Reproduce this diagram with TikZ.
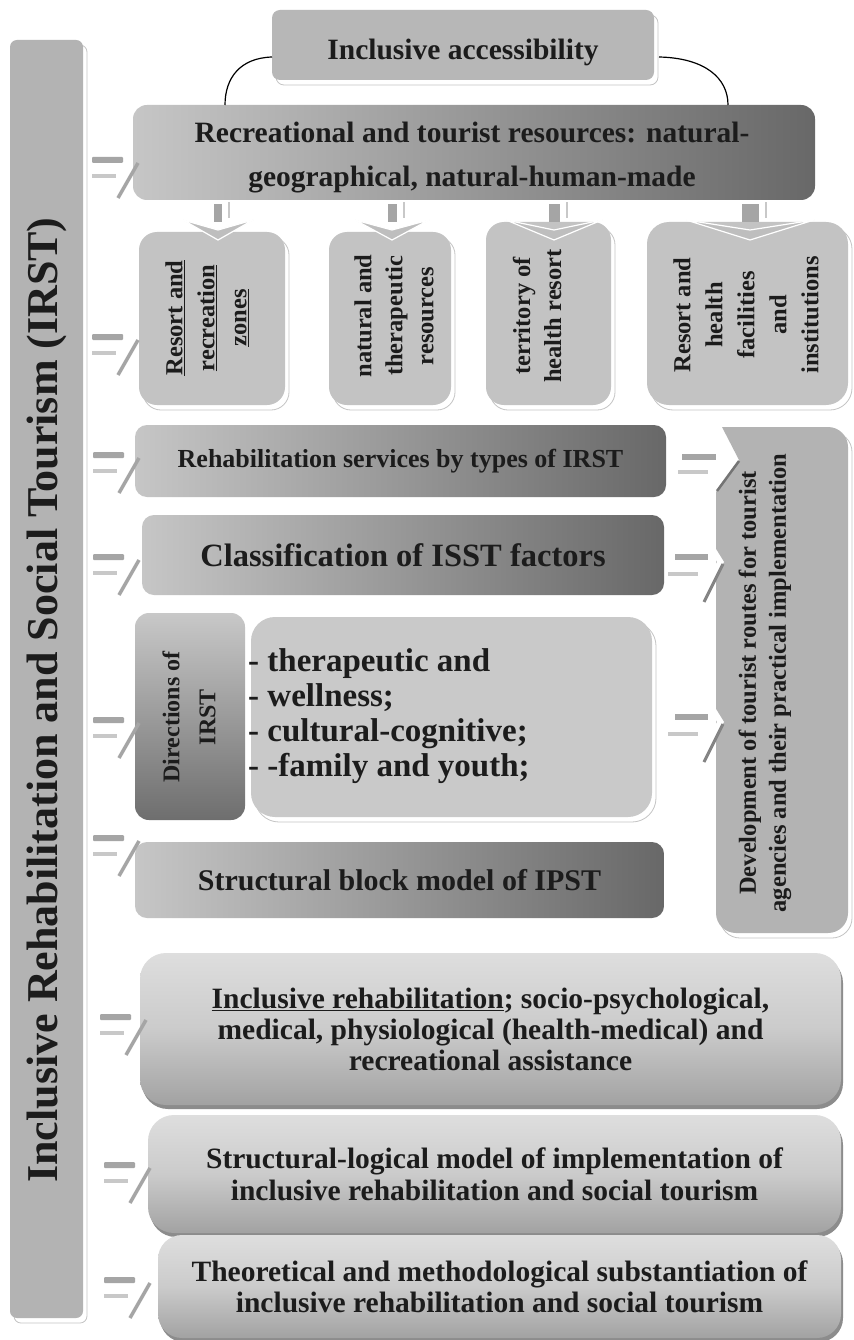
\documentclass[tikz,border=0pt]{standalone}
\usepackage{fontspec}
\setmainfont{Liberation Serif}
\usetikzlibrary{shadows,calc}
\definecolor{barfill}{HTML}{B3B3B3}
\definecolor{topfill}{HTML}{B7B7B7}
\definecolor{vfill}{HTML}{C3C3C3}
\definecolor{listfill}{HTML}{C9C9C9}
\definecolor{gradlight}{HTML}{C6C6C6}
\definecolor{graddark}{HTML}{686868}
\definecolor{botlight}{HTML}{DEDEDE}
\definecolor{botmid}{HTML}{CBCBCB}
\definecolor{botdark}{HTML}{A2A2A2}
\definecolor{arrdark}{HTML}{A5A5A5}
\definecolor{arrlight}{HTML}{C8C8C8}
\definecolor{chev}{HTML}{BEBEBE}
\definecolor{ink}{HTML}{1C1C1C}
\definecolor{rimline}{HTML}{C4C4C4}
\definecolor{dirlight}{HTML}{C8C8C8}
\definecolor{dirdark}{HTML}{6E6E6E}
\newcommand{\fs}[2]{\fontsize{#1bp}{#2bp}\selectfont}
\newcommand{\larrow}[2]{%
  \fill[arrdark,rounded corners=1bp] (#1,#2-3) rectangle (#1+31,#2+3);
  \fill[arrlight] (#1,#2+14) rectangle (#1+24,#2+18);
  \draw[arrdark,line width=3.5bp] (#1+26,#2+38) -- (#1+46,#2+3);}
\newcommand{\rarrow}[2]{%
  \fill[arrdark] (#1,#2-3) rectangle (#1+33,#2+3);
  \fill[arrlight] (#1-7,#2+15) rectangle (#1+23,#2+19);
  \fill[white] (#1+36,#2-16) -- (#1+49,#2+5) -- (#1+36,#2+26) -- (#1+30,#2+26) -- (#1+42,#2+5) -- (#1+30,#2-16) -- cycle;
  \draw[arrdark!80!black,line width=3bp] (#1+29,#2+45) -- (#1+48,#2+7);}
\begin{document}
\begin{tikzpicture}[x=1bp,y=-1bp,
  base/.style={anchor=north west, inner sep=0pt, outer sep=0pt},
  rim/.style={general shadow={fill=white, draw=rimline, line width=0.8bp, shadow xshift=4bp, shadow yshift=-5bp}},
  darkrim/.style={general shadow={fill=black!45, shadow xshift=2bp, shadow yshift=-4bp}},
  hgrad/.style={left color=gradlight, right color=graddark},
  botgrad/.style={top color=botlight, bottom color=botdark, middle color=botmid},
  txt/.style={text=ink, align=center, inner sep=0pt},
  arcline/.style={line width=1.2bp, black}]
\useasboundingbox (0,0) rectangle (853,1340);
\fill[white] (0,0) rectangle (853,1340);

% left bar
\node[base, rim, fill=barfill, rounded corners=7bp, minimum width=73bp, minimum height=1278bp] (bar) at (10,40) {};
\node[txt, rotate=90, font=\bfseries\fs{44}{50}] (bart) at (47,700) {Inclusive Rehabilitation and Social Tourism (IRST)};

% top box
\node[base, rim, fill=topfill, rounded corners=8bp, minimum width=382bp, minimum height=70bp] (top) at (272,10) {};
\node[txt, font=\bfseries\fs{29.5}{32}] (topt) at (463,52) {Inclusive accessibility};

% recreational box
\node[base, hgrad, rounded corners=14bp, minimum width=682bp, minimum height=95bp] (rec) at (133,105) {};
\node[txt, font=\bfseries\fs{29.5}{44}] (rect) at (472,158) {Recreational and tourist resources: natural-\\geographical, natural-human-made};

% arcs
\coordinate (al) at (225,105);
\coordinate (ar) at (728,105);
\draw[arcline] ($(top.west)+(0,12)$) .. controls (240,58) and (225,78) .. (al);
\draw[arcline] ($(top.east)+(5,12)$) .. controls (705,58) and (728,78) .. (ar);

% vertical boxes
\node[base, rim, fill=vfill, rounded corners=18bp, minimum width=146bp, minimum height=173bp] (v1) at (139,232) {};
\node[base, rim, fill=vfill, rounded corners=18bp, minimum width=122bp, minimum height=173bp] (v2) at (329,232) {};
\node[base, rim, fill=vfill, rounded corners=18bp, minimum width=125bp, minimum height=183bp] (v3) at (486,222) {};
\node[base, rim, fill=vfill, rounded corners=22bp, minimum width=201bp, minimum height=183bp] (v4) at (647,222) {};
\node[txt, rotate=90, font=\bfseries\fs{24.5}{32}] (v1t) at (207,318) {\underline{Resort and}\\\underline{recreation}\\\underline{zones}};
\node[txt, rotate=90, font=\bfseries\fs{24.5}{31}] (v2t) at (394,316) {natural and\\therapeutic\\resources};
\node[txt, rotate=90, font=\bfseries\fs{24.5}{31}] (v3t) at (537,316) {territory of\\health resort};
\node[txt, rotate=90, font=\bfseries\fs{24.5}{32}] (v4t) at (746,315) {Resort and\\health\\facilities\\and\\institutions};

% down arrows
\foreach \cx/\hw/\bw in {218/35/8, 392/37/9, 554/48/11, 750/64/17} {
  \fill[arrdark] (\cx-\bw/2,204) rectangle (\cx+\bw/2,222);
  \fill[arrlight] (\cx+\bw/2+6,202) rectangle (\cx+\bw/2+8,218);
  \filldraw[chev, draw=white, line width=1.2bp] (\cx-\hw,220) -- (\cx,230) -- (\cx+\hw,220) -- (\cx,240) -- cycle;
}

% rehabilitation services
\node[base, hgrad, rounded corners=12bp, minimum width=531bp, minimum height=72bp, txt, font=\bfseries\fs{26}{30}] (reh) at (135,425) {Rehabilitation services by types of IRST};

% classification
\node[base, hgrad, rounded corners=12bp, minimum width=522bp, minimum height=80bp, txt, font=\bfseries\fs{32.5}{34}] (cls) at (142,515) {Classification of ISST factors};

% directions
\node[base, top color=dirlight, bottom color=dirdark, rounded corners=14bp, minimum width=110bp, minimum height=207bp] (dir) at (135,613) {};
\node[txt, rotate=90, font=\bfseries\fs{24}{36}] (dirt) at (189,717) {Directions of\\IRST};
\node[base, rim, fill=listfill, rounded corners=24bp, minimum width=401bp, minimum height=200bp] (lst) at (251,617) {};
\node[txt, anchor=west, align=left, font=\bfseries\fs{33}{35}] (lstt) at (248,716) {- therapeutic and\\- wellness;\\- cultural-cognitive;\\- -family and youth;};

% structural block
\node[base, hgrad, rounded corners=12bp, minimum width=529bp, minimum height=76bp, txt, font=\bfseries\fs{30}{32}] (sbm) at (135,842) {Structural block model of IPST};

% right box
\path[fill=barfill, rim] (716,492) -- (739,460) -- (722,427) [rounded corners=20bp] -- (848,427) -- (848,933) -- (716,933) [sharp corners] -- cycle;
\draw[arrdark!70!black, line width=2.5bp] (739,461) -- (717,491);
\node[txt, rotate=90, font=\bfseries\fs{24.5}{30}] (rt) at (765,683) {Development of tourist routes for tourist\\agencies and their practical implementation};

% bottom boxes
\node[base, botgrad, darkrim, rounded corners=26bp, minimum width=701bp, minimum height=152bp, txt, font=\bfseries\fs{29.5}{31}] (inc) at (140,953) {\underline{Inclusive rehabilitation}; socio-psychological,\\medical, physiological (health-medical) and\\recreational assistance};
\node[base, botgrad, darkrim, rounded corners=26bp, minimum width=693bp, minimum height=118bp, txt, font=\bfseries\fs{29.5}{32}] (slm) at (148,1115) {Structural-logical model of implementation of\\inclusive rehabilitation and social tourism};
\node[base, botgrad, darkrim, rounded corners=24bp, minimum width=683bp, minimum height=103bp, txt, font=\bfseries\fs{29.5}{31}] (tms) at (158,1235) {Theoretical and methodological substantiation of\\inclusive rehabilitation and social tourism};

% left arrows
\larrow{92}{160}
\larrow{92}{337}
\larrow{93}{455}
\larrow{93}{557}
\larrow{93}{720}
\larrow{93}{838}
\larrow{100}{1017}
\larrow{104}{1165}
\larrow{104}{1280}

% right arrows
\fill[arrdark] (682,454) rectangle (716,460);
\fill[arrlight] (678,470) rectangle (708,474);
\rarrow{675}{557}
\rarrow{675}{717}
\end{tikzpicture}
\end{document}
